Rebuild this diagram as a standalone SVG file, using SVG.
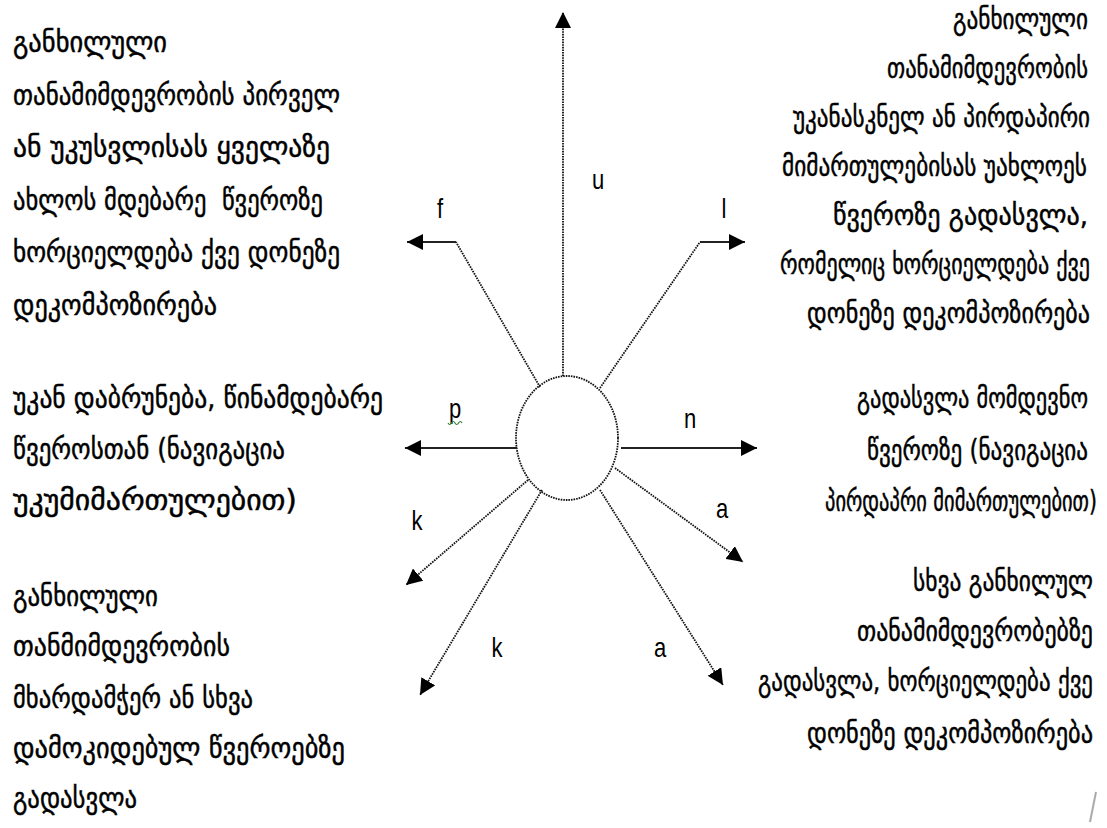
<svg xmlns="http://www.w3.org/2000/svg" width="1107" height="828" viewBox="0 0 1107 828">
<style>
.t{font-family:"DejaVu Sans","Noto Sans",sans-serif;font-size:21px;fill:#000;stroke:#000;stroke-width:0.35;}
.r{text-anchor:end;}
.lb{font-family:"Liberation Sans",Arial,sans-serif;font-size:22px;fill:#000;text-anchor:middle;}
.dot{fill:none;stroke:#111;stroke-width:1.8;stroke-dasharray:1.6 1;}
.sol{fill:none;stroke:#222;stroke-width:2.2;}
</style>
<defs>
<marker id="ah" markerUnits="userSpaceOnUse" markerWidth="18" markerHeight="16" refX="16" refY="8" orient="auto">
<path d="M0,0 L16,8 L0,16 z" fill="#000" stroke="none"/>
</marker>
</defs>
<rect width="1107" height="828" fill="#fff"/>

<g id="center-node">
<ellipse cx="567" cy="438" rx="51" ry="62" class="dot"/>
</g>

<g id="connectors">
<line x1="563" y1="376" x2="563" y2="12" class="dot" marker-end="url(#ah)"/>
<line x1="540" y1="387" x2="456" y2="242" class="dot"/>
<line x1="456" y1="242" x2="407" y2="242" class="sol" marker-end="url(#ah)"/>
<line x1="600" y1="388" x2="700" y2="242" class="dot"/>
<line x1="700" y1="242" x2="745" y2="242" class="sol" marker-end="url(#ah)"/>
<line x1="517" y1="448" x2="405" y2="448" class="sol" marker-end="url(#ah)"/>
<line x1="621" y1="448" x2="757" y2="448" class="sol" marker-end="url(#ah)"/>
<line x1="528" y1="480" x2="406" y2="585" class="dot" marker-end="url(#ah)"/>
<line x1="542" y1="490" x2="420" y2="695" class="dot" marker-end="url(#ah)"/>
<line x1="615" y1="468" x2="743" y2="562" class="dot" marker-end="url(#ah)"/>
<line x1="600" y1="490" x2="723" y2="685" class="dot" marker-end="url(#ah)"/>
</g>

<g id="edge-labels">
<text class="lb" transform="translate(598,189) scale(1,1.25)">u</text>
<text class="lb" transform="translate(440,218) scale(1,1.25)">f</text>
<text class="lb" transform="translate(724,218) scale(1,1.25)">l</text>
<text class="lb" transform="translate(455,418) scale(1,1.25)">p</text>
<path d="M448,423 q1.75,3 3.5,0 t3.5,0 t3.5,0 t3.5,0" fill="none" stroke="#2e7d32" stroke-width="1.2"/>
<text class="lb" transform="translate(690,428) scale(1,1.25)">n</text>
<text class="lb" transform="translate(417,530) scale(1,1.25)">k</text>
<text class="lb" transform="translate(722,518) scale(1,1.25)">a</text>
<text class="lb" transform="translate(497,657) scale(1,1.25)">k</text>
<text class="lb" transform="translate(660,657) scale(1,1.25)">a</text>
</g>

<g id="text-left-top">
<text class="t" transform="translate(13,52) scale(1,1.38)" textLength="154" lengthAdjust="spacingAndGlyphs">განხილული</text>
<text class="t" transform="translate(13,105) scale(1,1.38)" textLength="327" lengthAdjust="spacingAndGlyphs">თანამიმდევრობის პირველ</text>
<text class="t" transform="translate(13,157) scale(1,1.38)" textLength="317" lengthAdjust="spacingAndGlyphs">ან უკუსვლისას ყველაზე</text>
<text class="t" transform="translate(13,210) scale(1,1.38)" textLength="310" lengthAdjust="spacingAndGlyphs" xml:space="preserve">ახლოს მდებარე  წვეროზე</text>
<text class="t" transform="translate(13,262) scale(1,1.38)" textLength="327" lengthAdjust="spacingAndGlyphs">ხორციელდება ქვე დონეზე</text>
<text class="t" transform="translate(13,315) scale(1,1.38)" textLength="204" lengthAdjust="spacingAndGlyphs">დეკომპოზირება</text>
</g>

<g id="text-right-top">
<text class="t r" transform="translate(1088,29) scale(1,1.38)" textLength="135" lengthAdjust="spacingAndGlyphs">განხილული</text>
<text class="t r" transform="translate(1088,78) scale(1,1.38)" textLength="201" lengthAdjust="spacingAndGlyphs">თანამიმდევრობის</text>
<text class="t r" transform="translate(1090,127) scale(1,1.38)" textLength="297" lengthAdjust="spacingAndGlyphs">უკანასკნელ ან პირდაპირი</text>
<text class="t r" transform="translate(1087,176) scale(1,1.38)" textLength="305" lengthAdjust="spacingAndGlyphs">მიმართულებისას უახლოეს</text>
<text class="t r" transform="translate(1088,225) scale(1,1.38)" textLength="255" lengthAdjust="spacingAndGlyphs">წვეროზე გადასვლა,</text>
<text class="t r" transform="translate(1090,274) scale(1,1.38)" textLength="310" lengthAdjust="spacingAndGlyphs">რომელიც ხორციელდება ქვე</text>
<text class="t r" transform="translate(1090,323) scale(1,1.38)" textLength="283" lengthAdjust="spacingAndGlyphs">დონეზე დეკომპოზირება</text>
</g>

<g id="text-left-mid">
<text class="t" transform="translate(13,408) scale(1,1.38)" textLength="370" lengthAdjust="spacingAndGlyphs">უკან დაბრუნება, წინამდებარე</text>
<text class="t" transform="translate(13,459) scale(1,1.38)" textLength="272" lengthAdjust="spacingAndGlyphs">წვეროსთან (ნავიგაცია</text>
<text class="t" transform="translate(13,510) scale(1,1.38)" textLength="284" lengthAdjust="spacingAndGlyphs">უკუმიმართულებით)</text>
</g>

<g id="text-right-mid">
<text class="t r" transform="translate(1088,408) scale(1,1.38)" textLength="231" lengthAdjust="spacingAndGlyphs">გადასვლა მომდევნო</text>
<text class="t r" transform="translate(1088,460) scale(1,1.38)" textLength="221" lengthAdjust="spacingAndGlyphs">წვეროზე (ნავიგაცია</text>
<text class="t r" transform="translate(1097,511) scale(1,1.38)" textLength="272" lengthAdjust="spacingAndGlyphs">პირდაპრი მიმართულებით)</text>
</g>

<g id="text-left-bottom">
<text class="t" transform="translate(13,606) scale(1,1.38)" textLength="145" lengthAdjust="spacingAndGlyphs">განხილული</text>
<text class="t" transform="translate(13,656) scale(1,1.38)" textLength="217" lengthAdjust="spacingAndGlyphs">თანმიმდევრობის</text>
<text class="t" transform="translate(13,708) scale(1,1.38)" textLength="240" lengthAdjust="spacingAndGlyphs">მხარდამჭერ ან სხვა</text>
<text class="t" transform="translate(13,758) scale(1,1.38)" textLength="332" lengthAdjust="spacingAndGlyphs">დამოკიდებულ წვეროებზე</text>
<text class="t" transform="translate(13,808) scale(1,1.38)" textLength="124" lengthAdjust="spacingAndGlyphs">გადასვლა</text>
</g>

<g id="text-right-bottom">
<text class="t r" transform="translate(1093,591) scale(1,1.38)" textLength="180" lengthAdjust="spacingAndGlyphs">სხვა განხილულ</text>
<text class="t r" transform="translate(1093,641) scale(1,1.38)" textLength="236" lengthAdjust="spacingAndGlyphs">თანამიმდევრობებზე</text>
<text class="t r" transform="translate(1093,691) scale(1,1.38)" textLength="335" lengthAdjust="spacingAndGlyphs">გადასვლა, ხორციელდება ქვე</text>
<text class="t r" transform="translate(1093,743) scale(1,1.38)" textLength="286" lengthAdjust="spacingAndGlyphs">დონეზე დეკომპოზირება</text>
</g>

<line x1="1090" y1="822" x2="1096" y2="792" stroke="#aaa" stroke-width="2"/>
</svg>
